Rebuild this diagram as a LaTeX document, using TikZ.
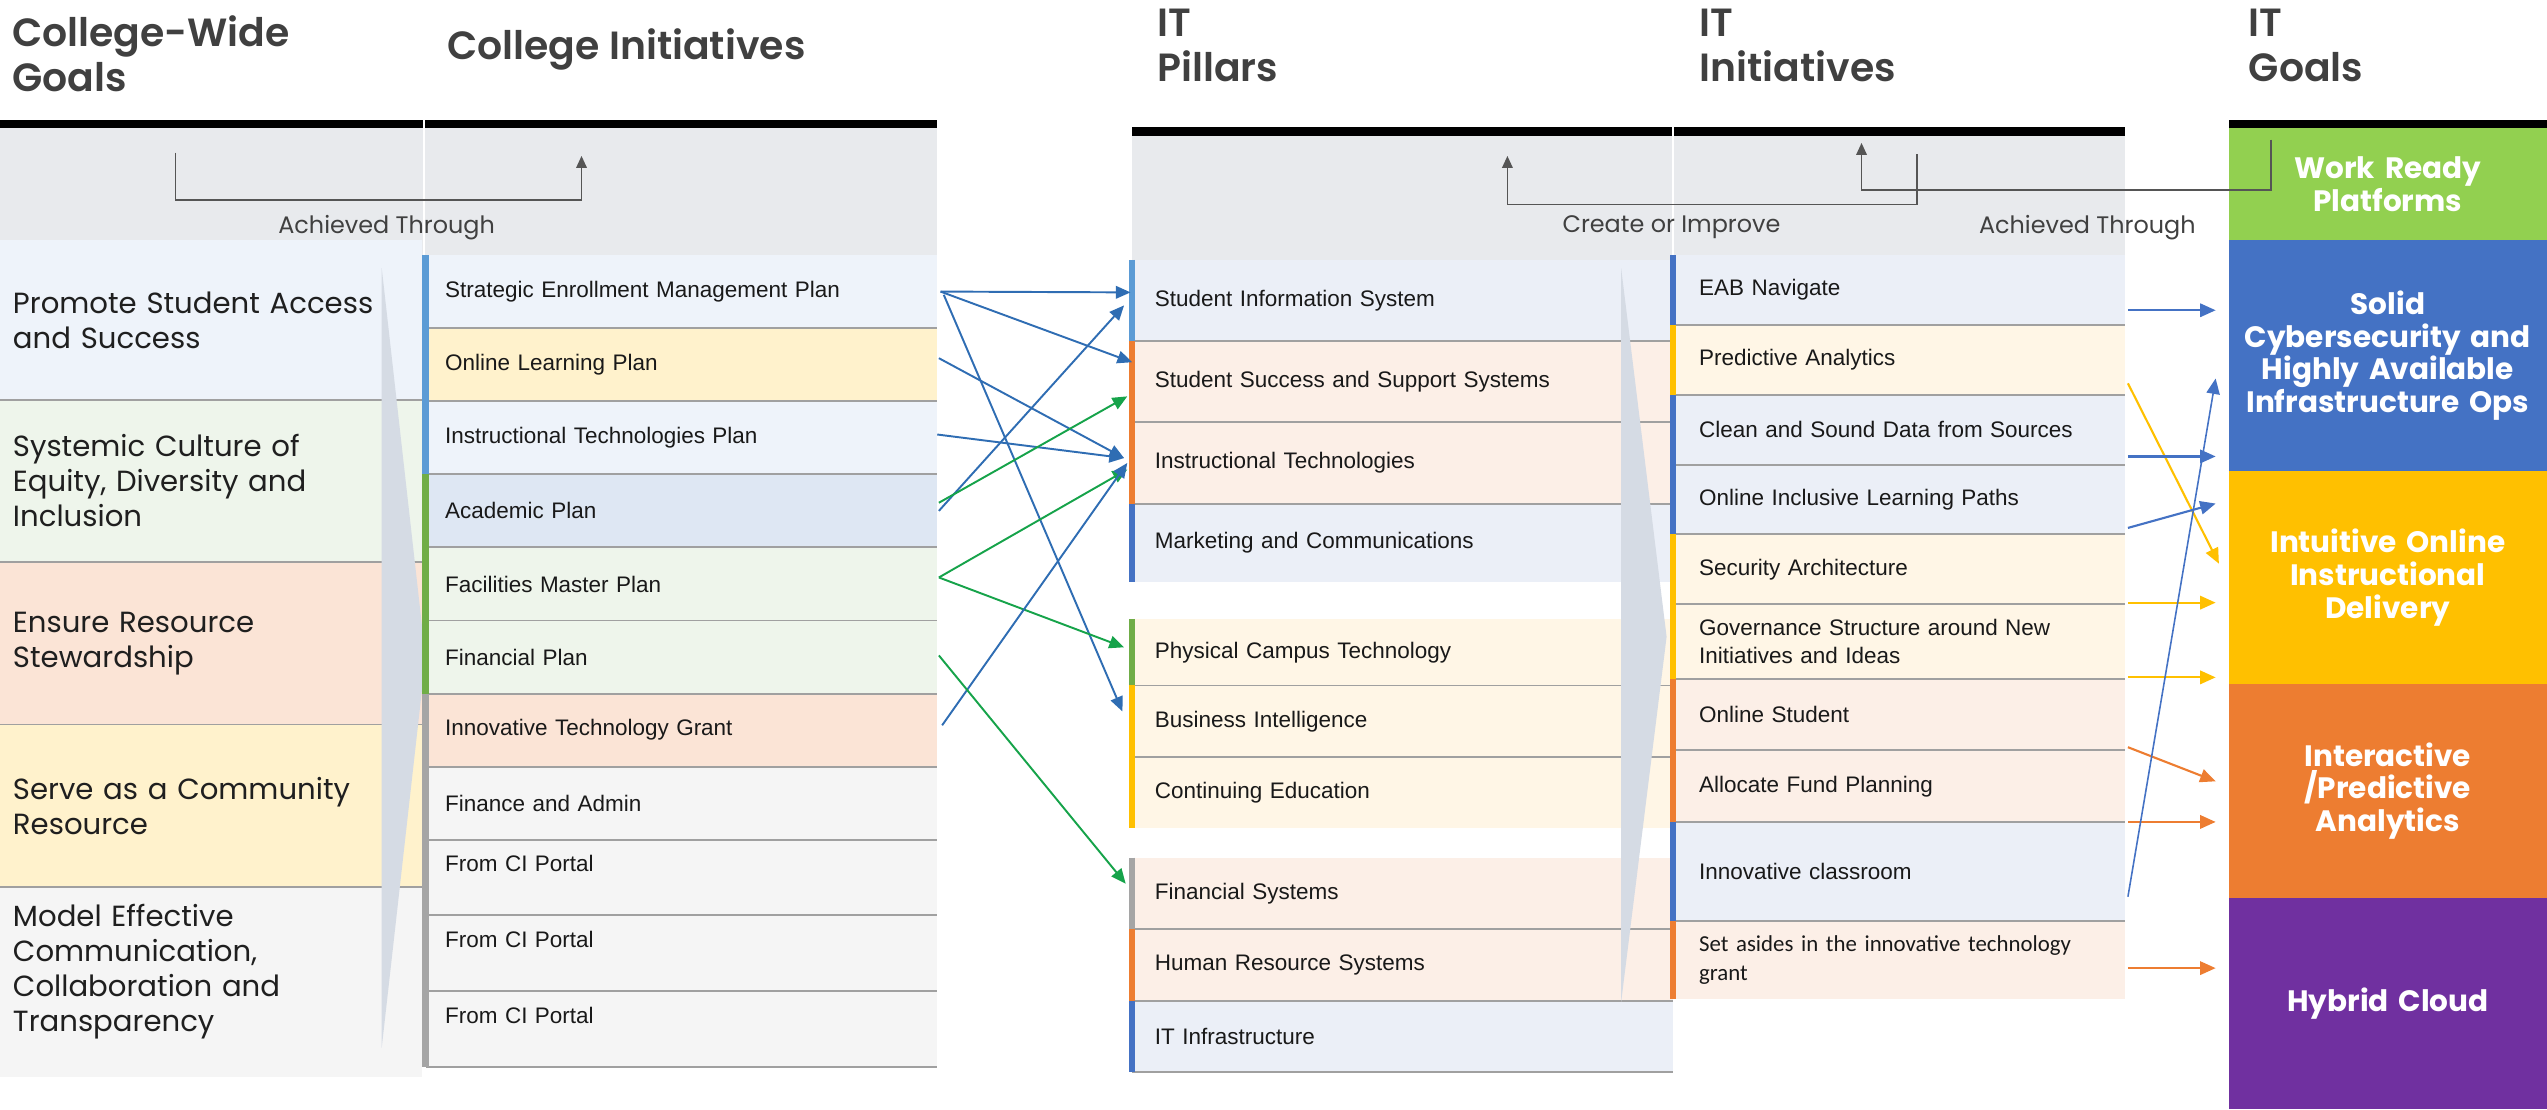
\documentclass[tikz,border=0pt]{standalone}
\usepackage{fontspec}
\setmainfont{Poppins}
\newfontfamily\headfam{Poppins}[UprightFont={* SemiBold}]
\newfontfamily\rowfam{Liberation Sans}
\newfontfamily\asidefam{Carlito}
\usetikzlibrary{arrows.meta,calc}

\def\un{0.016244cm}
\newcommand\headfont{\headfam\fontsize{11.2}{13}\selectfont}
\newcommand\goaltext{\fontsize{8.3}{10}\selectfont}
\newcommand\rowfnt{\rowfam\fontsize{6.4}{7.8}\selectfont}
\newcommand\notefont{\fontsize{6.8}{8}\selectfont}
\newcommand\itgoalfont{\bfseries\fontsize{8.4}{9.3}\selectfont}
\newcommand\asidefont{\asidefam\fontsize{6.5}{8}\selectfont}

\definecolor{hdgrey}{HTML}{404040}
\definecolor{band}{HTML}{E8EAED}
\definecolor{sepgrey}{HTML}{A0A0A0}
\definecolor{chev}{HTML}{D5DBE4}
\definecolor{fblue}{HTML}{EEF3FA}
\definecolor{fblueb}{HTML}{DEE7F3}
\definecolor{fgreen}{HTML}{EEF5EB}
\definecolor{fpeach}{HTML}{FBE4D6}
\definecolor{fyellow}{HTML}{FFF2CC}
\definecolor{fgrey}{HTML}{F5F5F5}
\definecolor{pblue}{HTML}{EBEFF7}
\definecolor{ppeach}{HTML}{FCEFE7}
\definecolor{pyellow}{HTML}{FFF6E6}
\definecolor{cskyblue}{HTML}{5B9BD5}
\definecolor{cblue}{HTML}{4472C4}
\definecolor{corange}{HTML}{ED7D31}
\definecolor{cyellow}{HTML}{FFC000}
\definecolor{cgreen}{HTML}{70AD47}
\definecolor{cgrey}{HTML}{A5A5A5}
\definecolor{clime}{HTML}{92D050}
\definecolor{cpurple}{HTML}{7030A0}
\definecolor{lnblue}{HTML}{2F6DB3}
\definecolor{lngreen}{HTML}{16A34A}
\definecolor{dline}{HTML}{555555}

\tikzset{
  head/.style={anchor=north west, inner sep=0pt, align=left, font=\headfont, text=hdgrey},
  goalrow/.style={anchor=north west, outer sep=0pt, inner ysep=0pt, inner xsep=8*\un,
    text width=244*\un, align=left, font=\goaltext, text=black!88},
  cirow/.style={anchor=north west, outer sep=0pt, inner ysep=0pt, inner xsep=12*\un,
    text width=291*\un, minimum height=45*\un, align=left, font=\rowfnt, text=black!90},
  prow/.style={anchor=north west, outer sep=0pt, inner ysep=0pt, inner xsep=14*\un,
    text width=305*\un, align=left, font=\rowfnt, text=black!90},
  irow/.style={anchor=north west, outer sep=0pt, inner ysep=0pt, inner xsep=16*\un,
    text width=246*\un, minimum height=43*\un, align=left, font=\rowfnt, text=black!90},
  itgoal/.style={anchor=north west, outer sep=0pt, inner sep=0pt, text width=196*\un,
    align=center, font=\itgoalfont, text=white},
  sepline/.style={draw=sepgrey, line width=1.2*\un},
  lbar/.style={draw=#1, line width=4*\un},
  note/.style={font=\notefont, text=hdgrey},
  bracket/.style={draw=dline, line width=1*\un, -{Triangle[length=3.4pt,width=3pt]}},
  blink/.style={draw=lnblue, line width=0.55pt, -{Triangle[length=4.2pt,width=3.6pt]}},
  glink/.style={draw=lngreen, line width=0.55pt, -{Triangle[length=4.2pt,width=3.6pt]}},
  rlink/.style={line width=0.6pt, -{Triangle[length=4.4pt,width=3.8pt]}}
}

\begin{document}
\begin{tikzpicture}[x=\un, y=-\un]
  \useasboundingbox (0,0) rectangle (1568,683);
  % header bands and bars
  \fill[band] (0,79) rectangle (577,157);
  \fill[band] (697,84) rectangle (1308,160);
  \fill[black] (0,74) rectangle (577,79);
  \fill[black] (697,78) rectangle (1308,84);
  \fill[black] (1372,74) rectangle (1568,79);
  \draw[white, line width=1.2*\un] (261,74) -- (261,157) (1030,78) -- (1030,157);

  \node[head] (cwgoals) at (7,9) {College-Wide\\Goals};
  \node[head] (cinit) at (275,17) {College Initiatives};
  \node[head] (itpillars) at (712,5) {IT\\Pillars};
  \node[head] (itinit) at (1046,5) {IT\\Initiatives};
  \node[head] (itgoals) at (1384,5) {IT\\Goals};

  % college-wide goals
  \node[goalrow, fill=fblue, minimum height=98*\un] (access) at (0,148) {Promote Student Access\\and Success};
  \node[goalrow, fill=fgreen, minimum height=100*\un] (equity) at (0,246) {Systemic Culture of\\Equity, Diversity and\\Inclusion};
  \node[goalrow, fill=fpeach, minimum height=100*\un] (steward) at (0,346) {Ensure Resource\\Stewardship};
  \node[goalrow, fill=fyellow, minimum height=100*\un] (community) at (0,446) {Serve as a Community\\Resource};
  \node[goalrow, fill=fgrey, minimum height=104*\un] (transp) at (0,546) {Model Effective\\Communication,\\Collaboration and\\Transparency};
  \fill[fgrey] (transp.south west) rectangle (260,663);

  % college initiatives
  \node[cirow, fill=fblue] (semp) at (262,157) {Strategic Enrollment Management Plan};
  \node[cirow, fill=fyellow] (olp) at (262,202) {Online Learning Plan};
  \node[cirow, fill=fblue] (itp) at (262,247) {Instructional Technologies Plan};
  \node[cirow, fill=fblueb] (acp) at (262,292) {Academic Plan};
  \node[cirow, fill=fgreen] (fmp) at (262,337) {Facilities Master Plan};
  \node[cirow, fill=fgreen] (finp) at (262,382) {Financial Plan};
  \node[cirow, fill=fpeach] (itg) at (262,427) {Innovative Technology Grant};
  \node[cirow, fill=fgrey] (fadm) at (262,472) {Finance and Admin};
  \node[cirow, fill=fgrey, minimum height=46*\un] (cip1) at (262,517) {From CI Portal\\\mbox{}};
  \node[cirow, fill=fgrey, minimum height=47*\un] (cip2) at (262,563) {From CI Portal\\\mbox{}};
  \node[cirow, fill=fgrey, minimum height=47*\un] (cip3) at (262,610) {From CI Portal\\\mbox{}};

  % IT pillars
  \node[prow, fill=pblue, minimum height=50*\un] (sis) at (697,160) {Student Information System};
  \node[prow, fill=ppeach, minimum height=50*\un] (sss) at (697,210) {Student Success and Support Systems};
  \node[prow, fill=ppeach, minimum height=50*\un] (itech) at (697,260) {Instructional Technologies};
  \node[prow, fill=pblue, minimum height=48*\un] (mkt) at (697,310) {Marketing and Communications};
  \node[prow, fill=pyellow, minimum height=41*\un] (pct) at (697,381) {Physical Campus Technology};
  \node[prow, fill=pyellow, minimum height=44*\un] (bint) at (697,422) {Business Intelligence};
  \node[prow, fill=pyellow, minimum height=44*\un] (cedu) at (697,466) {Continuing Education};
  \node[prow, fill=ppeach, minimum height=44*\un] (fsys) at (697,528) {Financial Systems};
  \node[prow, fill=ppeach, minimum height=44*\un] (hrs) at (697,572) {Human Resource Systems};
  \node[prow, fill=pblue, minimum height=44*\un] (infra) at (697,616) {IT Infrastructure};

  % IT initiatives
  \node[irow, fill=pblue] (eab) at (1030,157) {EAB Navigate};
  \node[irow, fill=pyellow] (pred) at (1030,200) {Predictive Analytics};
  \node[irow, fill=pblue] (csd) at (1030,243) {Clean and Sound Data from Sources};
  \node[irow, fill=pblue] (oilp) at (1030,286) {Online Inclusive Learning Paths};
  \node[irow, fill=pyellow] (seca) at (1030,329) {Security Architecture};
  \node[irow, fill=pyellow, minimum height=46*\un] (gov) at (1030,372) {Governance Structure around New\\Initiatives and Ideas};
  \node[irow, fill=ppeach, minimum height=44*\un] (ostu) at (1030,418) {Online Student};
  \node[irow, fill=ppeach, minimum height=44*\un] (afp) at (1030,462) {Allocate Fund Planning};
  \node[irow, fill=pblue, minimum height=61*\un] (icls) at (1030,506) {Innovative classroom};
  \node[irow, fill=ppeach, minimum height=48*\un, font=\asidefont] (seta) at (1030,567) {Set asides in the innovative technology\\grant};

  % IT goals
  \node[itgoal, fill=clime, minimum height=69*\un] (gwork) at (1372,79) {Work Ready\\Platforms};
  \node[itgoal, fill=cblue, minimum height=142*\un] (gsolid) at (1372,148) {Solid\\Cybersecurity and\\Highly Available\\Infrastructure Ops};
  \node[itgoal, fill=cyellow, minimum height=131*\un] (gdeliv) at (1372,290) {Intuitive Online\\Instructional\\Delivery};
  \node[itgoal, fill=corange, minimum height=132*\un] (ganal) at (1372,421) {Interactive\\/Predictive\\Analytics};
  \node[itgoal, fill=cpurple, minimum height=130*\un] (gcloud) at (1372,553) {Hybrid Cloud};

  % separators
  \draw[sepline] (access.south west) -- (access.south east) (equity.south west) -- (equity.south east)
    (steward.south west) -- (steward.south east) (community.south west) -- (community.south east);
  \draw[sepline] (semp.south west) -- (semp.south east) (olp.south west) -- (olp.south east)
    (itp.south west) -- (itp.south east) (acp.south west) -- (acp.south east)
    (fmp.south west) -- (fmp.south east) (finp.south west) -- (finp.south east)
    (itg.south west) -- (itg.south east) (fadm.south west) -- (fadm.south east)
    (cip1.south west) -- (cip1.south east) (cip2.south west) -- (cip2.south east)
    (cip3.south west) -- (cip3.south east);
  \draw[sepline] (sis.south west) -- (sis.south east) (sss.south west) -- (sss.south east)
    (itech.south west) -- (itech.south east) (pct.south west) -- (pct.south east)
    (bint.south west) -- (bint.south east) (fsys.south west) -- (fsys.south east)
    (hrs.south west) -- (hrs.south east) (infra.south west) -- (infra.south east);
  \draw[sepline] (eab.south west) -- (eab.south east) (pred.south west) -- (pred.south east)
    (csd.south west) -- (csd.south east) (oilp.south west) -- (oilp.south east)
    (seca.south west) -- (seca.south east) (gov.south west) -- (gov.south east)
    (ostu.south west) -- (ostu.south east) (afp.south west) -- (afp.south east)
    (icls.south west) -- (icls.south east);

  % chevrons
  \fill[chev] (235,165) -- (262,405) -- (235,645) -- cycle;
  \fill[chev] (998,165) -- (1026,392) -- (998,617) -- cycle;

  % left colour bars
  \draw[lbar=cskyblue] (semp.north west) -- (itp.south west);
  \draw[lbar=cgreen] (acp.north west) -- (finp.south west);
  \draw[lbar=cgrey] (itg.north west) -- (cip3.south west);
  \draw[lbar=cskyblue] (sis.north west) -- (sis.south west);
  \draw[lbar=corange] (sss.north west) -- (itech.south west);
  \draw[lbar=cblue] (mkt.north west) -- (mkt.south west);
  \draw[lbar=cgreen] (pct.north west) -- (pct.south west);
  \draw[lbar=cyellow] (bint.north west) -- (cedu.south west);
  \draw[lbar=cgrey] (fsys.north west) -- (fsys.south west);
  \draw[lbar=corange] (hrs.north west) -- (hrs.south west);
  \draw[lbar=cblue] (infra.north west) -- (infra.south west);
  \draw[lbar=cblue] (eab.north west) -- (eab.south west);
  \draw[lbar=cyellow] (pred.north west) -- (pred.south west);
  \draw[lbar=cblue] (csd.north west) -- (oilp.south west);
  \draw[lbar=cyellow] (seca.north west) -- (gov.south west);
  \draw[lbar=corange] (ostu.north west) -- (afp.south west);
  \draw[lbar=cblue] (icls.north west) -- (icls.south west);
  \draw[lbar=corange] (seta.north west) -- (seta.south west);

  % header brackets
  \coordinate (cwfrom) at (108,94);
  \coordinate (cwto) at (358,96);
  \draw[bracket] (cwfrom) -- ++(0,29) -| (cwto);
  \coordinate (cifrom) at (1180,95);
  \coordinate (cito) at (928,96);
  \draw[bracket] (cifrom) -- ++(0,31) -| (cito);
  \coordinate (atfrom) at (1398,86);
  \coordinate (atto) at (1146,88);
  \draw[bracket] (atfrom) -- ++(0,31) -| (atto);
  \node[note] (achieved) at (238,140) {Achieved Through};
  \node[note] (improve) at (1029,140) {Create or Improve};
  \node[note] (achievedit) at (1285,140) {Achieved Through};

  % initiatives to pillars
  \draw[blink] ($(semp.east)+(2,0)$) -- ($(sis.west)+(-1,-5)$);
  \draw[blink] ($(semp.east)+(2,0)$) -- ($(sss.west)+(0,-12)$);
  \draw[blink] ($(semp.east)+(4,2)$) -- ($(bint.west)+(-6,-6)$);
  \draw[blink] ($(olp.east)+(1,-4)$) -- ($(itech.west)+(-5,-3)$);
  \draw[blink] ($(itp.east)+(0,-2)$) -- ($(itech.west)+(-5,-3)$);
  \draw[blink] ($(acp.east)+(1,0)$) -- ($(sis.west)+(-5,3)$);
  \draw[glink] ($(acp.east)+(1,-5)$) -- ($(sss.west)+(-3,9)$);
  \draw[glink] ($(fmp.east)+(1,-4)$) -- ($(itech.west)+(-3,4)$);
  \draw[glink] ($(fmp.east)+(1,-4)$) -- ($(pct.west)+(-5,-3)$);
  \draw[blink] ($(itg.east)+(3,-3)$) -- ($(itech.west)+(-3,0)$);
  \draw[glink] ($(finp.east)+(1,-1)$) -- ($(fsys.west)+(-4,-6)$);

  % IT initiatives to IT goals
  \draw[rlink, cblue] ($(eab.east)+(2,12.5)$) -- ($(gsolid.west)+(-8,-28)$);
  \draw[rlink, cyellow] ($(pred.east)+(2,14.5)$) -- ($(gdeliv.west)+(-6,-8.5)$);
  \draw[rlink, cblue] ($(csd.east)+(2,16.5)$) -- ($(gsolid.west)+(-8,62)$);
  \draw[rlink, cblue] ($(oilp.east)+(2,17.5)$) -- ($(gdeliv.west)+(-8,-45.5)$);
  \draw[rlink, cyellow] ($(seca.east)+(2,20.5)$) -- ($(gdeliv.west)+(-8,15.5)$);
  \draw[rlink, cyellow] ($(gov.east)+(2,22)$) -- ($(gdeliv.west)+(-8,61.5)$);
  \draw[rlink, corange] ($(ostu.east)+(2,20)$) -- ($(ganal.west)+(-8,-6)$);
  \draw[rlink, corange] ($(afp.east)+(2,22)$) -- ($(ganal.west)+(-8,19)$);
  \draw[rlink, cblue, line width=0.45pt] ($(icls.east)+(2,15.5)$) -- ($(gsolid.west)+(-8,14)$);
  \draw[rlink, corange] ($(seta.east)+(2,5)$) -- ($(gcloud.west)+(-8,-22)$);
\end{tikzpicture}
\end{document}
